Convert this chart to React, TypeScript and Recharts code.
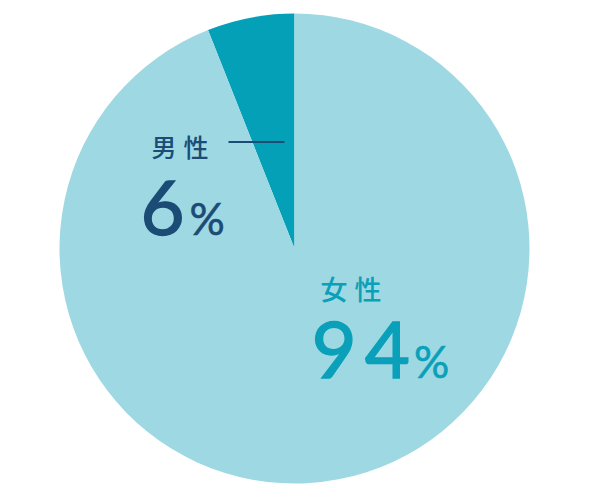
import * as React from "react";
import { PieChart, Pie, Cell } from "recharts";

// ─── Data ──────────────────────────────────────────────────────────────────

const genders = ["男性", "女性"];
const shares = [6, 94];
const sliceColors = ["#03a0b8", "#9ed8e3"];

const data = genders.map((name, i) => ({ name, value: shares[i] }));

const NAVY = "#1b4c76";
const TEAL = "#0aa0b9";
const FONT = "Lato, 'Noto Sans CJK JP', sans-serif";
const CJK = "'Noto Sans CJK JP', sans-serif";

// ─── Label: 性別 + 割合 ────────────────────────────────────────────────────

function GenderLabel(props: any) {
	const { cx = 0, cy = 0, index = 0 } = props;
	if (index === 0) {
		return (
			<g>
				<text x={cx - 143} y={cy - 92} fill={NAVY} fontSize={25} fontFamily={CJK} fontWeight={500} letterSpacing={7}>
					{genders[0]}
				</text>
				<line x1={cx - 66} x2={cx - 10} y1={cy - 106.5} y2={cy - 106.5} stroke={NAVY} strokeWidth={2} />
				<text x={cx - 154} y={cy - 13.5} fill={NAVY} fontFamily={FONT}>
					<tspan fontSize={76} stroke={NAVY} strokeWidth={1.4}>{shares[0]}</tspan>
					<tspan fontSize={44} dx={5} stroke={NAVY} strokeWidth={0.6}>%</tspan>
				</text>
			</g>
		);
	}
	if (index === 1) {
		return (
			<g>
				<text x={cx + 26} y={cy + 51} fill={TEAL} fontSize={27} fontFamily={CJK} fontWeight={500} letterSpacing={7}>
					{genders[1]}
				</text>
				<text x={cx + 17} y={cy + 129.5} fill={TEAL} fontFamily={FONT}>
					<tspan fontSize={78} stroke={TEAL} strokeWidth={1.4}>{String(shares[1])[0]}</tspan>
					<tspan fontSize={78} dx={8} stroke={TEAL} strokeWidth={1.4}>{String(shares[1])[1]}</tspan>
					<tspan fontSize={44} dx={4} stroke={TEAL} strokeWidth={0.6}>%</tspan>
				</text>
			</g>
		);
	}
	return null;
}

// ─── Chart ─────────────────────────────────────────────────────────────────

export default function App() {
	return (
		<div style={{ position: "absolute", left: 0, top: 0, width: 590, height: 500, background: "#fff" }}>
			<PieChart width={590} height={500} margin={{ top: 0, right: 0, bottom: 0, left: 0 }}>
				<Pie
					data={data}
					dataKey="value"
					nameKey="name"
					cx={294.5}
					cy={248.5}
					outerRadius={235}
					innerRadius={0}
					startAngle={90}
					endAngle={450}
					stroke="none"
					label={GenderLabel}
					labelLine={false}
					isAnimationActive={false}
				>
					{data.map((d, i) => (
						<Cell key={d.name} fill={sliceColors[i]} />
					))}
				</Pie>
			</PieChart>
		</div>
	);
}
